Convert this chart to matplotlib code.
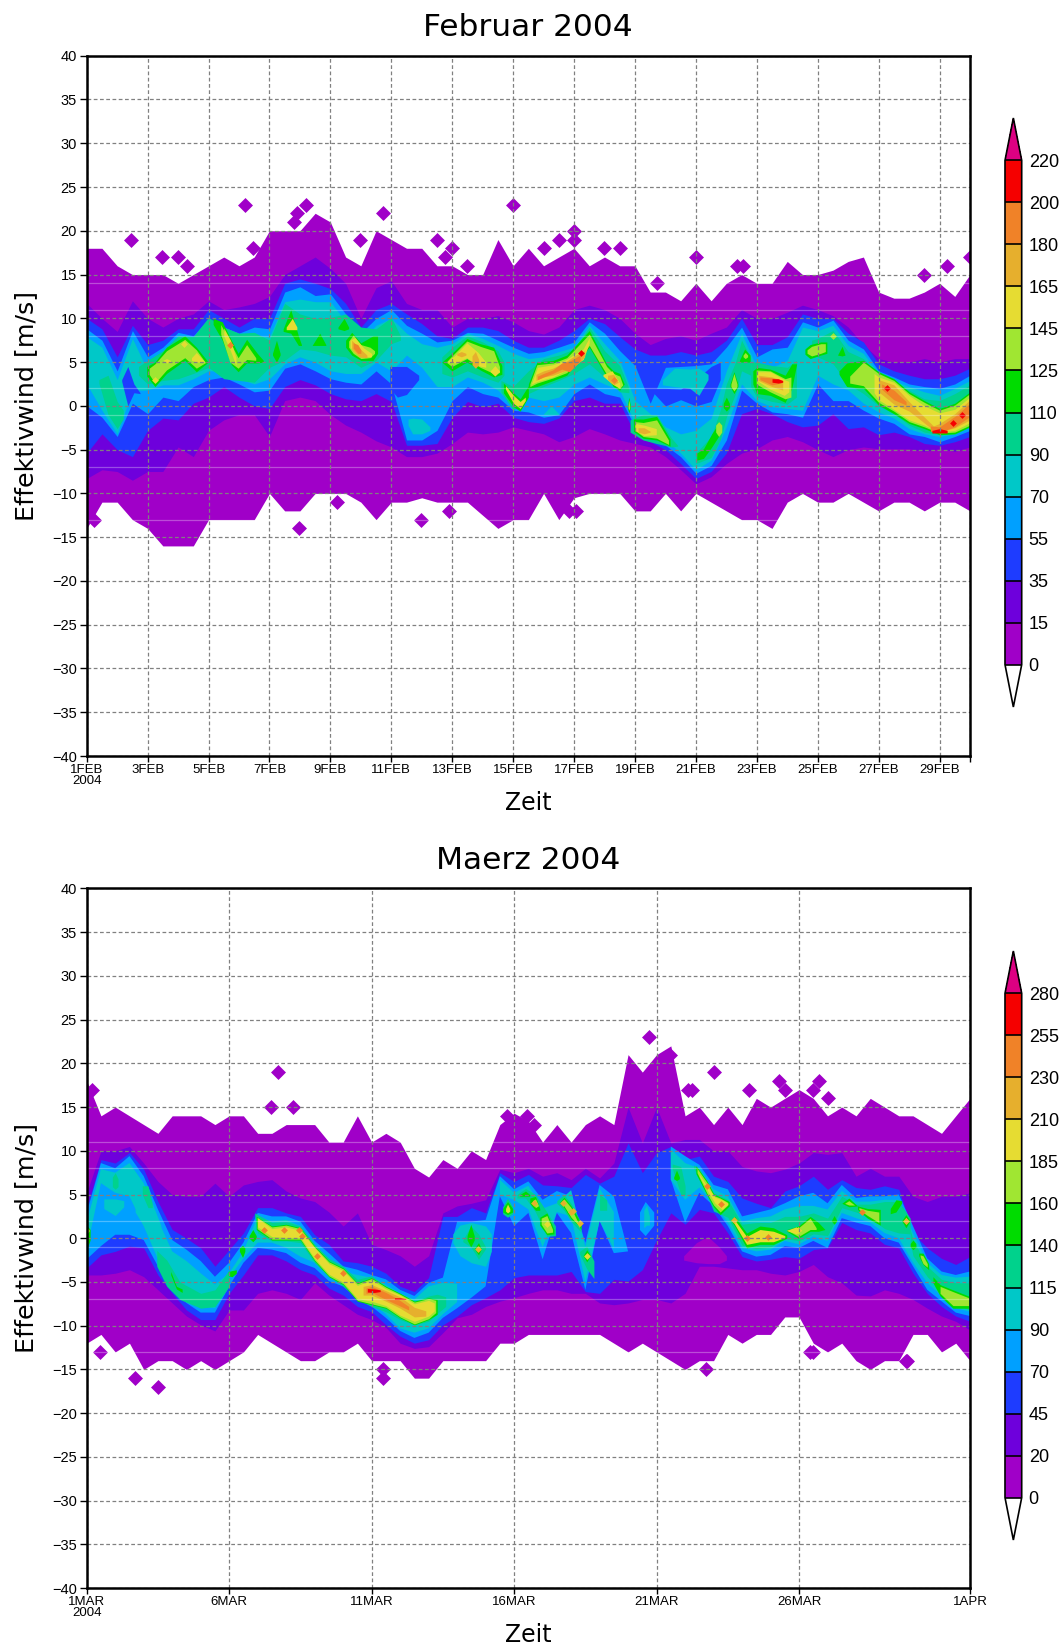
import numpy as np
from matplotlib import pyplot as plt
from matplotlib.cm import ScalarMappable
from matplotlib.colors import BoundaryNorm, ListedColormap

# band colours, lowest contour first
band_colors = ["#a000c8", "#6e00dc", "#1e3cff", "#00a0ff", "#00c8c8", "#00d28c",
               "#00dc00", "#a0e632", "#e6dc32", "#e6af2d", "#f08228", "#f50000"]
over_color = "#dc0082"

# FEBRUAR, half day steps from 1FEB (1) to 1MAR (30)
feb_times = np.arange(1, 30.5, 0.5)
feb_top_0 = [18,18,16,15,15,15,14,15,16,17,16,17,20,20,20,22,21,17,16,20,19,
             18,18,16,16,15,15,19,16,18,16,17,18,16,17,16,16,13,13,12,
             14,12,14,15,14,14,16.5,15,15,15.5,16.5,17,13,12.3,12.3,13,14,12.5,15]
feb_bot_0 = [-14,-11,-11,-13,-14,-16,-16,-16,-13,-13,-13,-13,-10,-12,-12,-10,-10,-10,-11,-13,-11,
             -11,-10.5,-11,-11,-11,-12.5,-14,-13,-13,-10,-13,-10.5,-10,-10,-10,-12,-12,-10,-12,
             -10,-11,-12,-13,-13,-14,-11,-10,-11,-11,-10,-11,-12,-11,-11,-12,-11,-11,-12]
feb_top_15 = [11.7,10,8.5,12,10,9,10,10.5,12,11,11.3,11.7,12.5,15,16,17,15.7,14,10,13.5,14.3,
              11.7,11,11,9,10,10,10.3,9.6,8.6,8.2,9,11,11.5,11,10,8.3,7,7.7,8,
              7.5,8.3,9,11,10,10,10.7,11.5,11,10.3,9,7,5.4,5,5,5.4,5,5.4,5.4]
feb_bot_15 = [-8.3,-7.3,-7.5,-8.5,-7.5,-7.5,-4.7,-5.8,-2.8,-1.6,-1,-1,-3.5,0.6,1,0.6,-1,-2.2,-3,-4,-4.7,
              -5.8,-5.8,-5.4,-4.3,-3,-3.2,-3,-2.4,-2.8,-3.2,-4.1,-3.5,-2.6,-3.2,-3.9,-4.3,-4.7,-5.8,-7.3,
              -8.9,-8.1,-6.6,-5.4,-4.9,-3.9,-3.5,-4.1,-5,-5.8,-5,-4.7,-4.9,-4.9,-4.9,-5.2,-4.9,-5.2,-4.7]
feb_top_35 = [10,8.8,5.6,9.2,7,7.5,8.8,8.8,11,10,9,10,10,14,14.5,14,13.4,11.7,9,11,11.7,
              10.5,9.4,8,7.7,9,9,8.6,7.5,6.7,6.7,7.5,8.6,10,9.4,7.9,6.5,5.8,5.8,6.2,
              5.8,6.2,7.5,10,7,7,7.9,10.5,10,10,8.3,7.3,4.8,4,3.5,3.1,3.1,3.5,4.3]
feb_bot_35 = [-5.4,-3.2,-5,-5.8,-2.8,-1.4,-1.6,0.3,1,2.2,1,0,-0.3,2.2,3,2.4,1.4,0.8,0.6,1.4,0.5,
              -4.5,-4.5,-4.3,-1.3,0.5,-0.1,0.3,-1.3,-1.8,-2,-1.4,0.6,1,0.3,0.3,-3.2,-4.1,-5,-6.6,
              -8.3,-7.5,-5.4,-0.9,-0.3,-0.9,-1.8,-2.4,-2.2,-0.9,-2.6,-2.4,-3.3,-3,-3.5,-4.3,-4.5,-4.1,-3.5]
feb_top_55 = [8.8,7.5,4,8.6,5.6,6.7,8.4,8,10,9,8.3,9,8.8,13,13.6,12.6,12.8,10.5,8.3,10,11,
              9.2,8.3,7.3,7.5,8.4,8.3,7.5,6.7,6,6.2,6.7,7.3,9.6,8.3,6.3,4.6,0.3,4.4,4.5,
              4.6,4.8,6.7,9,5.6,6.5,6.7,9.6,9,9.8,7.5,6.5,4,3.3,2.5,2.2,2,2.5,3.5]
feb_bot_55 = [0,-1.3,-3.5,0.3,-0.9,1,0.6,2.2,3,3.3,2.5,1.6,1.8,4.3,4.8,4,3.1,2.7,2.5,4,2.5,
              -3.9,-3.9,-2.8,0.6,2.2,1.4,1,-0.5,-0.7,-1.3,-1,1.4,2.5,1.4,1,-2.4,-3.5,-4.5,-5.8,
              -7.7,-6.8,-3.9,1.8,0.3,-0.7,-0.9,-1.3,2.5,0.6,0.6,-0.5,-1.4,-2,-3.2,-3.5,-4.1,-3.5,-2.8]
feb_top_70 = [7.9,6.7,3,7.7,4,6,7.7,7.1,9.6,8.3,7.5,8,7.9,11.9,12.2,11.9,11.9,9.6,7.3,9.2,10,
              8.3,7.1,6.7,7.1,8.3,7.7,6.9,6,5.4,5.6,6.2,6.7,9.2,7.1,5.2,0.6,-0.9,-2.4,-3.2,
              -2.8,-1.4,4,8.3,4.4,4.4,5.2,9,8.6,9.2,6.9,6,3.7,2.9,2.2,1.6,1.2,2,2.9]
feb_bot_70 = [2.5,-0.5,-3.2,1.8,1.8,2.4,2.4,3.1,4,4,3.1,2.5,3.1,4.8,5.6,5,4,3.7,3.7,5,4,
              5.8,4.4,2.2,2.2,3.3,2.7,1.8,0,1,0.6,1,2.5,3.3,2.5,1.8,-2,-3.2,-3.9,-5.4,
              -7.3,-6.2,-2.4,2.5,0.6,-0.1,-0.3,-0.5,3.5,2.5,1.8,0.3,-0.7,-1.4,-2.6,-3.2,-3.5,-3.2,-2.2]

# areas of lower value inside the bands: (level, days, upper, lower)
feb_holes = [
    (35, [2.15,2.35,2.55,2.75], [3,4.5,2.5,1.5], [2.8,0,1.5,1.4]),
    (35, [10.95,11.2,11.5,11.9], [4.5,4.5,4.5,3.5], [2,1,1.3,3]),
    (35, [19.6,20,20.5,21,21.5,21.8], [2,2,1.9,3,4.5,5], [1.5,0,0.7,0,0.5,3]),
]
# closed areas of higher value: (level, days, upper, lower)
feb_patches = [
    (70, [11.55,11.7,12,12.27], [-1.5,-1.4,-1.5,-2.4], [-2.2,-3.2,-3.2,-2.8]),
    (70, [16,16.25,16.5], [-0.9,0,-0.9], [-1,-1,-1]),
    (70, [19.9,20.3,20.8,21.1,21.4], [3,4.3,4.2,4.3,3.6], [2.4,2.2,2,1.2,3]),
    (90, [1.4,1.7,2,2.2], [3,3.5,0.5,-0.5], [2.6,-1,-2.6,-1.5]),
    (90, [2.7,3,3.5,4,4.5,5,5.5,6,6.5,7,7.5,8,8.5,9,9.5,10,10.5,11,11.3],
         [4.5,5.2,6.3,8,7.9,10.1,9,8.3,8.4,7.5,11.7,10.5,10,10.1,10.5,9,8.8,10.1,8],
         [3.5,2.5,2.9,3.1,3.7,4.4,3.1,2.9,2.7,4.4,5.2,6.5,6.3,5.8,5.6,4.4,5.2,7.1,7.5]),
    (90, [12.66,13,13.5,14,14.5,14.7], [5.6,6.7,8,7.3,6.3,5], [3.7,3.3,4,3.3,2.7,3.5]),
    (90, [14.6,15,15.5,16,16.5,17,17.5,18,18.5,18.8], [2.9,2.2,4,5.4,5.8,6.5,9,6.3,4.6,2],
         [1.6,-0.5,1.4,2.2,2.9,3.7,4.8,3.3,1.6,1.5]),
    (90, [18.84,19.27,19.71,20.2,20.4], [-1.6,-1,-1,-3.7,-4.5], [-3,-3.9,-4.3,-4.7,-4.6]),
    (90, [21,21.5,21.8,22,22.3,22.5,22.8], [-5.4,-3.5,-0.5,2.5,5,7.5,5.5], [-6.6,-5.9,-3.9,-1.3,1.4,4,3.5]),
    (90, [22.8,23,23.5,24,24.3], [5,5,4.6,4.4,5.2], [2.2,1,0.5,0.2,1]),
    (90, [24.8,25,25.5,26,26.5,27,27.5,28,28.5,29,29.5,30], [7.5,7.7,8.6,6.2,5.4,3.3,2.5,1.8,0.8,0.6,1.4,2.4],
         [5.8,5.6,4.8,2.5,1.4,0,-0.9,-2.2,-3,-3.3,-3,-1.6]),
    (110, [2.97,3.24,3.62,4.22,4.6,4.99], [4.5,5,6.7,8,6.7,5], [3.4,2.2,3.7,5.2,3.9,5]),
    (125, [3.05,3.24,3.62,4.22,4.6,4.9], [4.3,4.8,6.3,7.6,6.4,4.95], [3.6,2.6,4.1,5.5,4.3,4.95]),
    (145, [4.44,4.6,4.88], [5.5,6.1,5], [5.2,5,5]),
    (145, [3.5,3.62,3.75], [5.2,5.4,5.2], [5.2,4.9,5]),
    (110, [5.15,5.45,5.75,5.97,6.25,6.6,6.8], [10,9.6,7.5,6,7.6,6,5.2], [9.3,7.5,4.7,3.9,4.9,4.9,5]),
    (125, [5.4,5.7,5.97,6.25,6.55], [9.3,7.3,5.5,7,5.5], [8.2,5,4.3,5.3,5.2]),
    (145, [5.5,5.72,5.9], [8.9,7.5,5.5], [8,6.3,4.6]),
    (180, [5.65,5.72,5.8], [7,7.4,7], [7,6.6,7]),
    (110, [7.1,7.23,7.35], [6,7.5,6], [5.8,5,5.8]),
    (110, [7.45,7.7,7.95,8.05], [8.8,11,8,7], [8.5,8.3,6.9,6.9]),
    (145, [7.55,7.75,7.9], [9,10,9], [8.7,8.7,8.7]),
    (110, [8.4,8.65,8.85], [6.9,8.3,7], [6.9,6.9,6.9]),
    (110, [9.25,9.45,9.6], [9,10,9], [8.8,8.6,8.8]),
    (110, [9.5,9.7,10,10.4,10.55], [7.5,8.4,7.2,8,8], [6.7,5.8,5.2,5.2,6]),
    (125, [9.6,9.75,10,10.3,10.45], [7.4,8.1,7,6.7,6.3], [6.7,6,5.4,5.5,6]),
    (145, [9.65,9.8,10.1,10.35], [7.5,7.8,6.6,6], [6.7,6.1,5.6,5.6]),
    (165, [9.7,9.95,10.2], [7.5,6.6,5.8], [6.5,5.6,5.5]),
    (180, [9.75,9.9,10], [7.2,7,6.4], [6.6,6,6]),
    (110, [12.66,12.99,13.48,13.92,14.36,14.63], [5,6,7.7,7.1,6.7,4.6], [5,4,5,4.1,3.3,3.6]),
    (125, [12.8,12.99,13.48,13.92,14.36,14.55], [5,5.7,7.4,6.8,6.3,4.5], [5,4.5,5.4,4.4,3.7,3.8]),
    (145, [12.85,13.1,13.48,13.85,14.1], [5.1,5.8,7.2,6.1,5], [5,4.9,5.5,4.6,4.4]),
    (145, [14.25,14.4,14.55], [4,4.6,4], [3.9,3.4,3.9]),
    (165, [13.15,13.3,13.45], [6,6.2,6], [5.8,5.6,5.8]),
    (165, [13.65,13.76,13.87], [5.7,6.2,5.3], [4.7,4.3,4.7]),
    (110, [14.68,15.01,15.23,15.5], [2.6,1.5,0.8,2.3], [1.5,-0.1,-0.6,1]),
    (145, [14.75,15.01,15.23,15.4], [2.3,1.2,0.5,1], [1.9,0.3,-0.3,0.6]),
    (110, [15.5,15.78,16.32,16.76,17.5,18.07,18.29,18.5,18.65], [2.5,5,5.2,5.8,8.6,4.8,4,3.7,2.5],
          [2,2.2,2.9,3.5,6.7,3.3,2.2,1.8,2.5]),
    (125, [15.55,15.78,16.32,16.76,17.5,18.07,18.29,18.5,18.6], [2.5,4.7,4.9,5.5,8.2,4.5,3.7,3.4,2.4],
          [2.2,2.6,3.2,3.8,6.9,3.6,2.5,2,2.4]),
    (145, [15.6,15.8,16.3,16.7,17.3,17.5], [2.5,4.4,4.7,5.2,6.5,7.8], [2.5,2.8,3.3,4,5.3,7.2]),
    (145, [17.95,18.25,18.5], [3.6,4,2.6], [3.4,2.5,2]),
    (165, [15.75,16,16.3,16.7,17.15,17.35], [3.6,4,4.3,5,6,6.3], [2.9,3.3,3.5,4,4.9,5.6]),
    (165, [18.1,18.3,18.45], [3.5,3.6,2.7], [3,2.4,2.7]),
    (180, [15.8,16,16.3,16.6,16.85,17.2], [3.4,3.7,4.1,4.9,5.1,5.8], [3,3.3,3.7,4.2,3.9,5.1]),
    (110, [18.75,18.8,18.85], [0,1,0], [-0.2,-0.8,-0.2]),
    (125, [18.77,18.8,18.83], [0,0.7,0], [-0.2,-0.5,-0.2]),
    (110, [18.95,19.27,19.71,20.15], [-1.5,-1.5,-1.2,-3.8], [-2.9,-3.7,-3.9,-4.6]),
    (125, [19,19.27,19.71,20.1], [-1.8,-1.9,-1.6,-3.9], [-2.8,-3.5,-3.7,-4.4]),
    (145, [19,19.3,19.7], [-2,-2.2,-2.6], [-2.8,-3.4,-3.3]),
    (165, [19.1,19.3,19.5], [-2.5,-2.5,-2.9], [-3,-3.2,-3]),
    (110, [21.03,21.25,21.52,21.78], [-5.4,-4.9,-3.2,-1.8], [-6.2,-6,-4.7,-3.3]),
    (125, [21.65,21.75,21.85], [-2.2,-1.8,-2.2], [-3,-3.5,-3]),
    (110, [21.9,22,22.1], [0.3,1,0.3], [-0.2,-0.6,-0.2]),
    (110, [22.12,22.25,22.38], [2.5,3.9,2.5], [2.2,1.4,2.2]),
    (125, [22.15,22.25,22.35], [2.5,3.7,2.5], [2.2,1.7,2.2]),
    (110, [22.43,22.6,22.78], [5.2,6.5,5.8], [5,5,5]),
    (125, [22.55,22.62,22.7], [5.8,6.1,5.8], [5.6,5.4,5.6]),
    (110, [22.87,23,23.44,23.93,24.15,24.31], [4,4.4,4.2,3.5,4.8,4.8], [2.5,1.4,1.2,0.4,2,4.8]),
    (125, [22.98,23.44,23.93,24.12], [4.1,4,3.1,3.3], [2.5,1.6,0.8,1]),
    (145, [23,23.44,23.9,24.05], [3.9,3.9,3,2.8], [2.9,1.9,1.2,1.6]),
    (165, [23.05,23.5,23.85], [3.5,3.3,2.9], [2.9,2.2,1.8]),
    (180, [23.1,23.5,23.8], [3.3,3.2,2.9], [3,2.4,2.6]),
    (200, [23.5,23.7,23.85], [3.1,3.1,2.9], [2.7,2.6,2.7]),
    (110, [24.58,24.75,25.1,25.3], [6.5,7,7.3,7.3], [5.9,5.4,5.8,6]),
    (125, [24.65,24.8,25.1,25.25], [6.4,6.8,7.1,7.1], [6,5.7,6,6.2]),
    (110, [25.65,25.8,25.9], [5.8,6.8,5.8], [5.8,5.7,5.8]),
    (110, [25.7,25.95,26.5,27,27.5,28,28.5,29,29.5,30], [4,4.9,5.2,3.9,3.1,1.6,0.6,-0.3,0.3,1.6],
          [3.6,2.2,2,0.1,-0.9,-2,-2.6,-3.3,-3.2,-2.4]),
    (125, [26.05,26.5,27,27.5,28,28.5,29,29.5,30], [3.4,5,3.7,2.9,1.4,0.4,-0.5,0.1,1.4],
          [2.6,2.3,0.4,-0.6,-1.8,-2.4,-3.1,-3,-2.2]),
    (145, [26.85,27,27.5,28,28.5,29,29.5,30], [3.7,3.3,2.7,1.2,0,-0.8,-0.4,1], [1.5,0.7,-0.4,-1.6,-2.2,-3,-2.8,-1.9]),
    (165, [27,27.5,28,28.3,28.8,29,29.5,30], [3,2.4,0.5,-0.6,-2.3,-2,-0.9,0.7], [1.6,0.2,-0.6,-1.4,-2.8,-3,-2.5,-1.6]),
    (180, [27.1,27.5,27.9], [2.5,1.8,0.5], [1.9,0.7,0.1]),
    (180, [28.7,29,29.5,30], [-2.3,-2.4,-1.2,0.3], [-2.9,-3,-2.4,-1.2]),
    (200, [28.75,29,29.25], [-2.8,-2.6,-2.8], [-3.1,-3.1,-3.1]),
]
# very small extrema: level, day, wind
feb_spots = [(200,17.23,6), (200,29.75,-1), (200,27.26,2), (200,29.45,-2), (180,5.72,7), (180,18.3,3),
             (180,27.5,1.3), (125,25.5,8), (145,3.25,3), (145,4.2,7.1)]
# isolated cells outside the main field
feb_dots_day = [2.47,6.21,3.48,4,4.3,6.46,9.96,10.73,7.9,8.2,7.8,9.22,7.96,12.5,12.99,12.77,13.5,14.99,16,16.5,17,17,18,18.5,19.74,
                11.98,12.88,17.05,16.85,21,22.35,22.55,28.5,29.25,30,1.25,3.8,4.3]
feb_dots_wind = [19,23,17,17,16,18,19,22,22,23,21,-11,-14,19,18,17,16,23,18,19,20,19,18,18,14,
                 -13,-12,-12,-12,17,16,16,15,16,17,-13,-15,-15]
feb_pale_lines = [14,11,8,2,-1,-7,-13]

# MAERZ, half day steps from 1MAR (1) to 1APR (32)
mar_times = np.arange(1, 32.5, 0.5)
mar_top_0 = [18,14,15,14,13,12,14,14,14,13,14,14,12,12,13,13,13,11,11,14,11,12,
             11,8,7,9,8,10,9,13,14.3,13.4,11,13,11,13,14,13,21,19,21,22,
             14,15,13,15,13,16,15,16,17,16,14,15,14,16,15,14,14,13,12,14,16]
mar_bot_0 = [-12,-11,-13,-12,-15,-14,-14,-15,-14,-15,-14,-13,-11,-12,-13,-14,-14,-13,-13,-12,-14,-14,
             -14,-16,-16,-14,-14,-14,-14,-12,-12,-11,-11,-11,-11,-11,-11,-12,-13,-12,-13,-14,
             -15,-14,-14,-11,-12,-11,-11,-9,-9,-12,-13,-12,-14,-15,-14,-14,-11,-11,-13,-12,-14]
mar_top_15 = [5.2,10,10,10.5,8.6,6.5,5,4.8,4.8,6.3,4.8,6.1,6.5,6.7,5.4,4.6,4.2,3,1.4,2.9,-0.7,-1.3,
              -2,-3.2,-2,2.9,3.7,4,4.4,7.9,7.5,8,7.1,7.5,6.7,8,6.9,8.6,15,10.9,15,10.9,
              11.3,11.3,10,10,8.2,7.7,7.5,7.9,8.6,9.8,9.6,9.8,7.1,8,7.1,7.1,4.8,4.2,4.8,4.8,5.2]
mar_bot_15 = [-4.2,-4.2,-4,-3.6,-4.4,-5.9,-7.4,-8.9,-9.9,-10.6,-8.2,-8.2,-6.3,-5.9,-6.3,-7,-5.1,-6.5,-7.6,-8.7,-9.3,-10.2,
              -12,-12.6,-12.4,-10.8,-9.1,-8.7,-7.8,-7.2,-6.8,-6.3,-5.9,-5.9,-6.3,-6.3,-7.4,-7.6,-7.4,-7,-7,-7.4,
              -6.3,-3.2,-3.2,-3.4,-3.6,-3.6,-4,-4.2,-3.8,-3,-4.4,-5.1,-6.5,-6.6,-5.9,-6.3,-7,-8,-8.9,-9.5,-10.5]
mar_top_35 = [3.5,9,8.6,9.8,7.9,4.2,1,0,-1.1,-3.2,-1.3,0.6,3.5,3.5,2.9,2.5,0.4,-0.7,-2.6,-2.8,-3.2,-4,
              -5.5,-6.1,-4.5,2.5,2.5,3.5,2.9,7.5,6.5,7.3,6.1,6,5.8,7.3,6.3,7.1,10.9,7.5,9.8,10.5,
              9,9.4,7.1,6.5,4.6,4,3.5,5.4,6,7.1,5.6,6.7,5.8,5.6,6,5.6,0.6,-1.1,-2.3,-3,-2.1]
mar_bot_35 = [-3.4,-1.9,-1.5,-0.9,-1.1,-4.2,-6.3,-8.2,-9.3,-9.3,-6.3,-4.2,-1.9,-1.9,-2.6,-3.6,-4.2,-5.7,-6.5,-7.8,-8.4,-9.9,
              -11.2,-12,-11.6,-9.9,-8.9,-7.6,-6.8,-5.9,-4.5,-4.2,-4.2,-4.2,-3.8,-6.1,-6.3,-4.7,-4.9,-3.6,-0.2,2.9,
              1.6,3.3,2.9,0.6,-2.1,-2.6,-2.4,-2.1,-2.3,-1.3,-1.1,1.8,1,0.6,-0.7,-1.1,-4,-6.3,-7.8,-8.9,-9.5]
mar_top_55 = [2.9,8.6,8,9.4,7.1,3.3,-0.2,-1.3,-2.6,-4.4,-2.8,-0.5,2.9,2.5,2.5,1.9,-0.3,-1.7,-3.2,-3.6,-4.2,-4.7,
              -5.9,-6.6,-5.1,-4.5,1.9,1.9,2.1,7.1,5.6,6.5,4.4,5.4,4.8,-0.5,6.1,4.8,-1.5,None,None,10.5,
              9.4,8.4,6.1,5.6,2.5,2.9,3.3,4,4.8,5.2,4,6.1,4.6,4.8,4.8,5,1.4,-2.3,-3.8,-4.2,-3.8]
mar_bot_55 = [-2.4,-0.9,0.4,0.4,-0.2,-3.2,-5.5,-7.4,-8.5,-8.5,-5.5,-2.8,-1.1,-1.3,-1.7,-2.8,-3.4,-4.9,-5.5,-6.8,-7.8,-9.1,
              -10.6,-11.4,-10.8,-9.1,-8,-6.8,-5.5,4.8,1.4,2.9,-2.4,2.9,0.6,-5.9,2,-1.7,-1.5,None,None,6.7,
              1.8,5.2,3.7,1.4,-1.5,-2.1,-1.9,-0.9,-1.1,-0.3,-1.1,2.3,1.8,1.4,0,-0.5,-3.2,-5.9,-7.2,-8.5,-8.9]
mar_top_70 = [1.8,7.9,7.5,8.6,6.3,2.1,-1.5,-2.6,-4,-5.3,-4,-1.5,2.5,1.9,2.1,1.4,-0.7,-2.4,-3.8,-4.2,-4.5,-5.3,
              -6.3,-7,-5.5,-5.1,-5.2,None,None,6.7,5.2,6,3.4,4,5.5,-1,5.7,3,None,None,None,10.2,
              8.6,8,5.6,4.8,1.9,2.3,2.5,3.3,3.7,3.7,3.3,5.4,4.2,4.2,4.4,4.4,0.6,-2.8,-4.2,-4.5,-4.4]
mar_bot_70 = [-1.3,6.3,5.2,4.8,1.4,-2.4,-4.7,-6.6,-7.8,-8,-4.5,-2.3,-0.5,-0.5,-1.1,-2.1,-2.8,-4.4,-5.1,-6.5,-7.4,-8.7,
              -10.3,-10.8,-10.3,-8.7,-7.3,None,None,5,4.4,3.3,-1,3,2.5,-5,2,-1.2,None,None,None,6.7,
              4.4,5.8,4,1.8,-1.1,-1.5,-1.3,-0.3,-0.7,0.2,-0.3,2.9,2.3,1.8,0.6,0,-2.8,-5.1,-6.6,-8,-8.4]

# level numbers here are the february ones, so both months share band_colors by position
mar_holes = [
    (0, [21.95,22.4,22.8,23.2,23.45], [-2,-0.5,0.2,-1,-2], [-2.5,-2.8,-2.9,-2.9,-2.5]),
]
mar_patches = [
    (55, [20.4,20.6,20.9], [3,4.2,3], [1,0.3,1.5]),
    (70, [20.55,20.65,20.75], [3.2,3.8,2.5], [1.2,1.5,1.5]),
    (70, [13.85,14.1,14.5,15,15.2], [0.5,1.5,1.8,1.4,0.5], [-0.5,-2,-2.8,-3.2,-1.5]),
    (70, [2.7,3,3.3,3.6], [5,5.8,4,1.5], [3,1.4,-0.5,-0.8]),
    (70, [1.6,2,2.3], [4.5,4.5,4.3], [3.4,2.6,3.6]),
    (90, [1.9,2,2.1], [7,7.5,6.8], [5.9,5.6,5.9]),
    (90, [2.95,3.15,3.3], [6,6,4], [5,3.5,3.5]),
    (90, [3.46,3.81,4.27,5,5.5,6], [-1.4,-2.5,-5,-6.3,-5.9,-3.6], [-3.2,-5.5,-7,-8,-7.8,-5.5]),
    (90, [6.9,7,7.5,8,8.5,9,9.5,10,10.5,11,11.5,12,12.5,13,13.3,13.6],
         [2.9,2.7,1.8,1.9,1.4,-0.7,-2.3,-3.2,-4.7,-4.3,-5.5,-6.3,-7.2,-6.6,-6.4,-6.7],
         [2.5,0.6,-0.3,-0.3,-0.5,-2.8,-4.4,-5.5,-7,-7.8,-8.4,-9.3,-9.9,-9.5,-8.6,-7.8]),
    (90, [14.2,14.48,14.75,15], [-0.2,1.4,0.5,-1], [-0.4,-1,-2.4,-1.2]),
    (90, [15.6,15.77,15.95], [3.6,4.6,3.6], [2.8,2.4,2.8]),
    (90, [16.1,16.4,16.75,17.15,17.45], [5,5.7,5,3,1.4], [4.6,4.6,3,0.2,0.3]),
    (90, [17.5,17.75,18,18.35], [4.3,5,4,1.8], [4,3.2,1.9,0.7]),
    (90, [18.3,18.55,18.8], [-1.5,-0.9,-2.6], [-1.8,-3.5,-4.6]),
    (90, [19,19.25], [5,4.4], [3.2,3.2]),
    (90, [21.55,21.85,22], [8.5,8.2,6], [8,5,5]),
    (90, [22.3,22.5,23,23.5,24,24.5,25,25.5,26,26.5,27,27.5,28,28.5,29,29.5,29.9],
         [8.4,7.9,5.2,4.4,1.6,1.8,1.8,2.5,2.5,2.9,2.3,4.8,3.9,3.9,4.2,4.2,2.3],
         [8,7,3.1,2.4,-0.8,-1.2,-1,0,-0.3,0.5,0.3,3.5,3,2.3,1.1,0.6,0.5]),
    (90, [29.9,30,30.5,31,31.5,32], [1,-0.2,-3.2,-4.7,-5.1,-5.1], [-0.5,-2,-4.4,-6,-7.6,-8.2]),
    (110, [1,1.12], [1.5,1], [-1.3,-0.2]),
    (145, [1,1.08], [1.2,1], [0.5,0.8]),
    (110, [3.95,4.15,4.35], [-3.8,-5.5,-5.8], [-4.2,-5.8,-6.2]),
    (110, [5.97,6.1,6.25], [-3.8,-3.7,-3.6], [-4.3,-4.4,-4]),
    (110, [6.36,6.47,6.55], [-1.1,-0.8,-1.1], [-1.5,-2.2,-1.5]),
    (110, [6.7,6.83,6.95], [0.3,1,0.3], [0,-0.4,0]),
    (110, [6.95,7.5,8,8.5,9,9.5,10,10.5,11,11.5,12,12.5,13,13.3],
          [2.5,1.4,1.6,1.2,-0.9,-2.6,-3.4,-5.1,-4.5,-5.5,-6.3,-7.2,-6.8,-7],
          [1,-0.2,-0.2,-0.2,-2.6,-4.4,-5.3,-7.2,-7.6,-8,-9.1,-9.9,-9.3,-8.7]),
    (125, [6.98,7.5,8,8.5,9,9.5,10,10.5,11,11.5,12,12.5,13,13.25],
          [2.4,1.3,1.5,1.1,-1,-2.7,-3.5,-5.2,-4.6,-5.6,-6.4,-7.3,-6.9,-7.1],
          [1.1,-0.1,-0.1,-0.1,-2.5,-4.3,-5.2,-7.1,-7.5,-7.9,-9,-9.8,-9.2,-8.5]),
    (145, [7,7.5,8,8.5,9,9.5,10,10.5,11,11.5,12,12.5,13,13.2],
          [2.3,1.1,1.3,0.9,-1.1,-2.9,-3.7,-5.4,-4.8,-5.8,-6.5,-7.5,-7.1,-7.4],
          [1.3,0.2,0.1,0.1,-2.3,-4.1,-5,-6.9,-7.2,-7.7,-8.8,-9.5,-8.9,-8.3]),
    (165, [10.7,11,11.5,12,12.5,12.9], [-5.5,-5.3,-6,-6.7,-7.9,-8.3], [-6.5,-6.5,-7.2,-8,-9,-8.9]),
    (180, [10.8,11,11.5,11.9,12.3], [-5.7,-5.5,-6.2,-6.9,-7.8], [-6.3,-6.2,-7,-7.6,-8.2]),
    (200, [10.85,11.1,11.3], [-5.75,-5.8,-5.9], [-6.15,-6.2,-6.1]),
    (200, [11.8,12,12.2], [-6.8,-6.8,-6.9], [-7,-7,-7]),
    (110, [14.35,14.48,14.6], [0.3,1.6,0.3], [-0.2,-1,-0.2]),
    (110, [14.6,14.75,14.85], [-1.2,-0.5,-1.2], [-1.2,-1.9,-1.2]),
    (110, [15.6,15.77,15.95], [3.4,4.2,3.4], [3,2.7,3]),
    (145, [15.7,15.77,15.85], [3.4,3.9,3.4], [3.1,2.9,3.1]),
    (110, [16.2,16.4,16.55], [5,5.4,5], [4.8,4.8,4.8]),
    (110, [16.55,16.75,16.9], [4.6,4.8,3.4], [4,3.2,3.2]),
    (125, [16.65,16.75,16.85], [4.3,4.5,3.8], [4,3.5,3.7]),
    (110, [16.9,17.15,17.4], [2.4,2.9,1], [1.5,0.4,0.5]),
    (125, [16.95,17.15,17.35], [2.3,2.6,1], [1.6,0.6,0.7]),
    (110, [17.6,17.75,18,18.25,18.35], [4.1,4.7,3.7,2.3,1.5], [4,3.5,2.2,1.5,1]),
    (125, [17.65,17.75,18,18.2,18.3], [4.1,4.5,3.5,2.1,1.5], [4,3.7,2.4,1.7,1.2]),
    (110, [18.42,18.55,18.68], [-2,-1.3,-2], [-2,-2.7,-2]),
    (110, [21.6,21.7,21.8], [7,7.8,7], [6.8,6.6,6.8]),
    (110, [22.38,22.76,23,23.23,23.55], [8.3,6.6,5.1,4.7,4.2], [7.4,5,3.6,2.7,3.7]),
    (125, [22.42,22.76,23,23.23,23.5], [8,6.4,4.9,4.6,4.1], [7.5,5.2,3.8,3,3.8]),
    (145, [22.5,22.76,23.05,23.3,23.5], [7.3,6,4.7,4.4,4], [7.1,5.6,4,3.3,3.9]),
    (110, [23.6,23.74,24.16,24.63,25.1,25.57], [2.1,2.5,0.6,1.4,1.2,0.4], [2.1,1.4,-1.1,-0.7,-0.7,0]),
    (145, [23.65,23.74,24.16,24.63,25.1,25.5], [2.1,2.1,0.2,1,0.8,0.3], [2.1,1.6,-0.7,-0.4,-0.4,0.1]),
    (110, [25.57,25.98,26.39,26.68,26.91], [1,1.4,2.5,1.8,1], [0.8,0,0.8,0.8,1]),
    (125, [25.6,25.98,26.39,26.6], [0.9,1.2,2.3,1.2], [0.9,0.2,1,1]),
    (145, [25.55,25.9,26.1], [0.9,1.3,0.9], [0.9,0.5,0.9]),
    (110, [27.13,27.23,27.33], [2,2.6,2], [2,1.6,2]),
    (110, [27.5,27.75,28.05], [4,4.6,3.7], [4,3.6,3.7]),
    (125, [27.6,27.75,27.95], [4,4.3,3.8], [4,3.8,3.8]),
    (110, [28.05,28.4,28.85], [3.7,3.4,3.3], [3.3,2.3,1.5]),
    (125, [28.1,28.4,28.8], [3.5,3.2,3], [3.3,2.6,1.8]),
    (110, [29.2,29.4,29.6], [3.4,4.4,4.3], [2.8,3,4]),
    (110, [29.6,29.75,29.9], [2,2.7,2], [2,1.2,2]),
    (145, [29.68,29.75,29.82], [2,2.4,2], [2,1.6,2]),
    (110, [29.9,30,30.1], [-0.6,-0.2,-0.6], [-1,-1.3,-1]),
    (110, [30.2,30.35,30.55], [-1.7,-1.7,-2.9], [-2,-3,-3.6]),
    (125, [30.25,30.35,30.5], [-1.9,-2,-2.9], [-2.1,-2.9,-3.3]),
    (110, [30.7,30.95,31.4,31.95], [-4.4,-5.3,-5.9,-6.6], [-5.1,-6.6,-8,-8]),
    (125, [30.95,31.4,31.95], [-5.5,-6.1,-6.8], [-6.3,-7.7,-7.7]),
]
mar_spots = [(180,7.22,1), (180,7.92,1), (180,8.46,1), (180,9.07,-2), (180,10,-4), (180,8.55,0.3),
             (165,14.75,-1.2), (165,16.7,4), (165,17.7,4), (165,18,3), (165,18.3,1.7), (145,18.55,-2),
             (180,22.76,6), (180,23.25,3.9), (180,24.18,0), (180,24.9,0.1), (165,23.7,2.1),
             (180,28.2,3), (165,29.75,2), (165,18.05,3.1), (145,17.15,1.6), (145,25.95,0.9)]
mar_dots_day = [7.73,7.48,8.23,1.2,1.47,2.7,3.5,20.75,15.74,16.44,16.7,22.1,21.47,23,22.23,24.25,25.3,25.5,26.7,26.5,27,
                26.5,29.75,22.74,11.4,11.4,26.4,29.8]
mar_dots_wind = [19,15,15,17,-13,-16,-17,23,14,14,13,17,21,19,17,17,18,17,18,17,16,
                 -13,-14,-15,-15,-16,-13,-14]
mar_pale_lines = [11,8,2,-1,-7,-13]

# colour bar levels
feb_levels = [0,15,35,55,70,90,110,125,145,165,180,200,220]
mar_levels = [0,20,45,70,90,115,140,160,185,210,230,255,280]

y_ticks = list(range(-40, 45, 5))
feb_tick_days = list(range(1, 30, 2))
feb_tick_labels = [f"{d}FEB" for d in feb_tick_days]
feb_tick_labels[0] = "1FEB\n2004"
mar_tick_days = [1, 6, 11, 16, 21, 26, 32]
mar_tick_labels = ["1MAR\n2004", "6MAR", "11MAR", "16MAR", "21MAR", "26MAR", "1APR"]

W, H = 1061, 1647
TICK_FONT = "Liberation Sans"
TITLE_FONT = "DejaVu Sans"


def axes_box(left, top, right, bottom):
    return [left / W, 1 - bottom / H, (right - left) / W, (bottom - top) / H]


def color_of(level):
    return band_colors[feb_levels.index(level)]


def draw_month(box, cbar_box, title, xlim, times, edges, holes, patches, spots, dots, pale, ticks, labels, levels):
    ax = fig.add_axes(axes_box(*box))
    for z, (level, top, bot) in enumerate(edges):
        ax.fill_between(times, np.array(bot, dtype=float), np.array(top, dtype=float),
                        color=color_of(level), lw=0, zorder=1 + z * 0.01)
    ax.scatter(dots[0], dots[1], marker="D", s=58, color=band_colors[0], lw=0, zorder=1)
    for level, days, hi, lo in holes:
        ax.fill_between(days, lo, hi, color=color_of(level), lw=0, zorder=1.2)
    for level, days, hi, lo in sorted(patches, key=lambda p: p[0]):
        ax.fill_between(days, lo, hi, color=color_of(level), lw=0, zorder=1.3 + feb_levels.index(level) * 0.01)
    for level, day, wind in spots:
        ax.scatter([day], [wind], marker="D", s=12, color=color_of(level), lw=0, zorder=1.5)
    ax.hlines(pale, xlim[0], xlim[1], color="white", alpha=0.3, lw=0.9, zorder=1.6)

    ax.set_xlim(*xlim)
    ax.set_ylim(-40, 40)
    ax.set_yticks(y_ticks)
    ax.set_xticks(ticks)
    ax.set_xticklabels(labels, fontsize=9.5, family=TICK_FONT, linespacing=0.95)
    ax.tick_params(axis="y", labelsize=10.5, length=5, width=1, pad=2)
    ax.tick_params(axis="x", length=4, width=1, pad=1.5)
    for t in ax.get_yticklabels():
        t.set_family(TICK_FONT)
    ax.grid(True, color="#808080", ls=(0, (3, 2)), lw=0.9, zorder=2)
    ax.set_axisbelow(False)
    for s in ax.spines.values():
        s.set_linewidth(1.8)
        s.set_zorder(5)
    fig.text((box[0] + box[2]) / 2 / W, 1 - (box[1] - 28) / H, title, ha="center", va="center",
             fontsize=22.5, family=TITLE_FONT)
    fig.text((box[0] + box[2]) / 2 / W, 1 - (box[3] + 47) / H, "Zeit", ha="center", va="center",
             fontsize=17, family=TITLE_FONT)
    fig.text(26 / W, 1 - (box[1] + box[3]) / 2 / H, "Effektivwind [m/s]", rotation=90, ha="center", va="center",
             fontsize=18.3, family=TITLE_FONT)

    # the box runs from tip to tip of the two end triangles
    cax = fig.add_axes(axes_box(*cbar_box))
    cmap = ListedColormap(band_colors).with_extremes(over=over_color, under="white")
    norm = BoundaryNorm(levels, len(band_colors))
    cb = fig.colorbar(ScalarMappable(norm=norm, cmap=cmap), cax=cax, extend="both", spacing="uniform",
                      extendfrac=0.084, drawedges=True, ticks=levels)
    cb.outline.set_linewidth(1.2)
    cb.dividers.set_linewidth(1.2)
    cb.dividers.set_color("black")
    cax.tick_params(length=0, labelsize=13, pad=5)
    for t in cax.get_yticklabels():
        t.set_family(TICK_FONT)


fig = plt.figure(figsize=(W / 100, H / 100), dpi=100)

feb_edges = [(0, feb_top_0, feb_bot_0), (15, feb_top_15, feb_bot_15), (35, feb_top_35, feb_bot_35),
             (55, feb_top_55, feb_bot_55), (70, feb_top_70, feb_bot_70)]
mar_edges = [(0, mar_top_0, mar_bot_0), (15, mar_top_15, mar_bot_15), (35, mar_top_35, mar_bot_35),
             (55, mar_top_55, mar_bot_55), (70, mar_top_70, mar_bot_70)]

draw_month((86.7, 55.7, 970, 756), (1005, 118, 1021.7, 707), "Februar 2004", (1, 30),
           feb_times, feb_edges, feb_holes, feb_patches, feb_spots, (feb_dots_day, feb_dots_wind), feb_pale_lines,
           feb_tick_days + [30], feb_tick_labels + [""], feb_levels)
draw_month((86.7, 888.5, 970, 1588), (1005, 951, 1021.7, 1540), "Maerz 2004", (1, 32),
           mar_times, mar_edges, mar_holes, mar_patches, mar_spots, (mar_dots_day, mar_dots_wind), mar_pale_lines,
           mar_tick_days, mar_tick_labels, mar_levels)

fig.savefig("out.png", dpi=100)
